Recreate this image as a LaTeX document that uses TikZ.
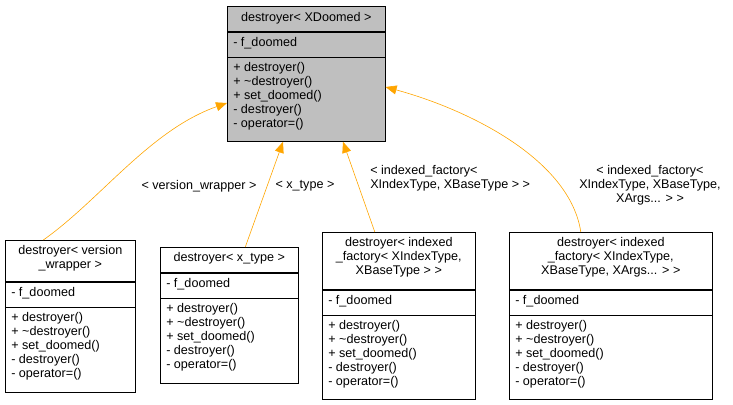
\documentclass[tikz,border=0pt]{standalone}
\usepackage{fontspec}
\setmainfont{Liberation Sans}
\usetikzlibrary{arrows.meta,positioning}
\definecolor{edgeorange}{HTML}{FFA500}
\definecolor{titlegray}{HTML}{BFBFBF}
\tikzset{
    box/.style={
           rectangle,
           draw=black,
           anchor=north west,
           inner sep=0pt,
           },
    txt/.style={
           anchor=north west,
           align=left,
           inner sep=0pt,
           font=\fontsize{12.6}{14}\selectfont,
           },
    ttl/.style={
           anchor=north,
           align=center,
           inner sep=0pt,
           font=\fontsize{12.6}{14}\selectfont,
           },
    pil/.style={
           -{Triangle[open,fill=edgeorange,length=11pt,width=9pt]},
           draw=edgeorange,
           },
}
\newcommand{\methods}{+ destroyer()\\+ \textasciitilde destroyer()\\+ set\_doomed()\\- destroyer()\\- operator=()}
% one class box: name, x, y, width, title height, attr height, method height, title
\newcommand{\umlclass}[8]{
  \node[box,minimum width=#4pt,minimum height=#5pt] (#1t) at (#2,#3) {};
  \node[box,minimum width=#4pt,minimum height=#6pt,anchor=north west] (#1a) at (#1t.south west) {};
  \node[box,minimum width=#4pt,minimum height=#7pt,anchor=north west] (#1m) at (#1a.south west) {};
  \node[ttl] (#1n) at ([yshift=-5pt]#1t.north) {#8};
  \node[txt] (#1x) at ([xshift=6pt,yshift=-5pt]#1a.north west) {- f\_doomed};
  \node[txt] (#1y) at ([xshift=6pt,yshift=-5pt]#1m.north west) {\methods};
}
\begin{document}
\begin{tikzpicture}[x=1pt,y=-1pt,line width=0.6pt]
\useasboundingbox (0,0) rectangle (733,404);
\node[box,fill=titlegray,minimum width=158pt,minimum height=25pt] (topt) at (227,6) {};
\node[box,fill=titlegray,minimum width=158pt,minimum height=25pt,anchor=north west] (topa) at (topt.south west) {};
\node[box,fill=titlegray,minimum width=158pt,minimum height=84pt,anchor=north west] (topm) at (topa.south west) {};
\node[ttl] (topn) at ([yshift=-6pt]topt.north) {destroyer< XDoomed >};
\node[txt] (topx) at ([xshift=6pt,yshift=-5pt]topa.north west) {- f\_doomed};
\node[txt] (topy) at ([xshift=6pt,yshift=-5pt]topm.north west) {\methods};
\umlclass{vw}{5}{240}{130}{41}{25}{85}{destroyer< version\\\_wrapper >}
\umlclass{xt}{160}{247}{138}{25}{25}{85}{destroyer< x\_type >}
\umlclass{if}{322}{232}{153}{57}{25}{84}{destroyer< indexed\\\_factory< XIndexType,\\XBaseType > >}
\umlclass{ia}{509}{232}{203}{57}{25}{84}{destroyer< indexed\\\_factory< XIndexType,\\XBaseType, XArgs... > >}
\draw[pil] ([xshift=-27pt]vwt.north) .. controls (100,200) and (150,130) .. (topm.west |- 0,103);
\draw[pil] ([xshift=16pt]xtt.north) -- (topm.south -| 283,0);
\draw[pil] ([xshift=-24pt]ift.north) -- (topm.south -| 343,0);
\draw[pil] ([xshift=-30pt]iat.north) .. controls (570,160) and (470,110) .. (topm.east |- 0,87);
\node[ttl] (l1) at (199,180) {< version\_wrapper >};
\node[ttl] (l2) at (305,180) {< x\_type >};
\node[txt] (l3) at (370,165) {< indexed\_factory<\\XIndexType, XBaseType > >};
\node[ttl] (l4) at (650,165) {< indexed\_factory<\\XIndexType, XBaseType,\\XArgs... > >};
\end{tikzpicture}
\end{document}
